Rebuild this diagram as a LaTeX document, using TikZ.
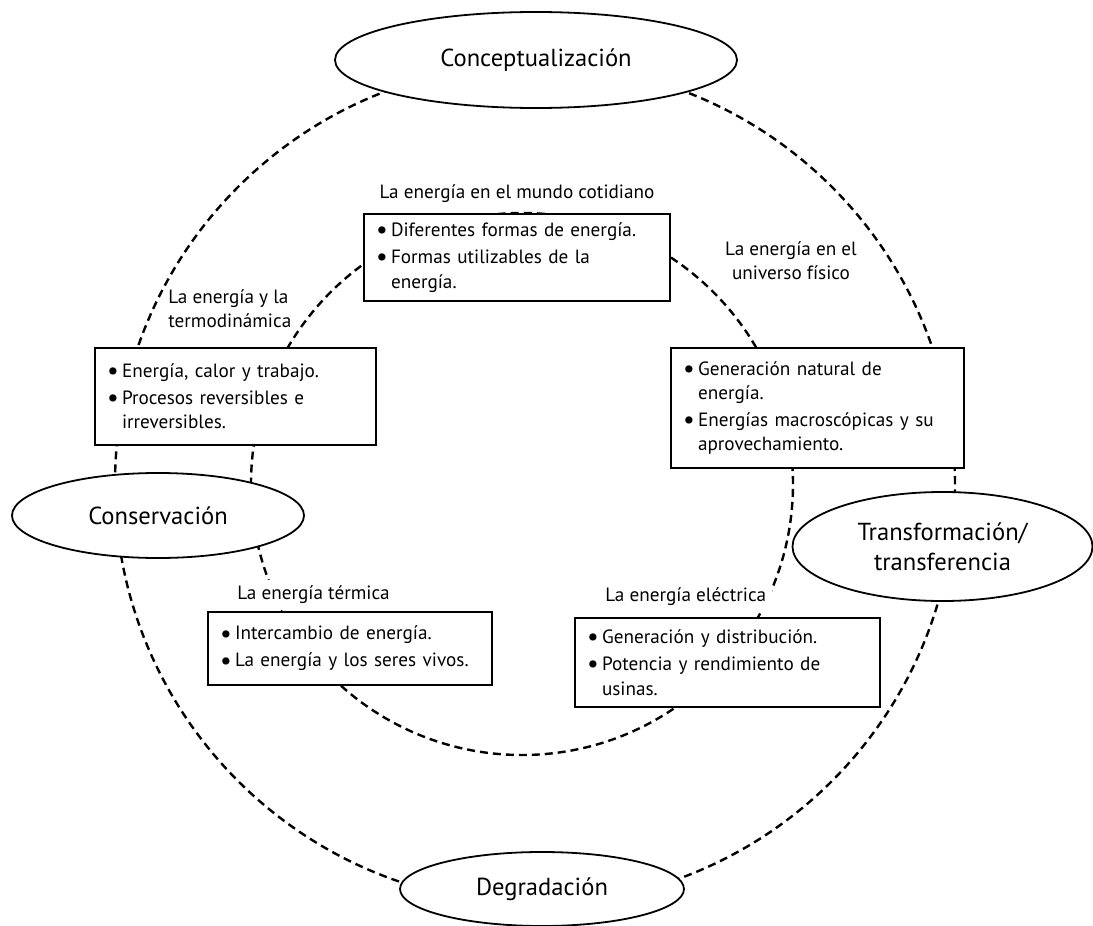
\documentclass[tikz,border=0pt]{standalone}
\usepackage{fontspec}
\setmainfont{PT Sans}
\usetikzlibrary{shapes.geometric, positioning}

\newcommand{\punto}{\makebox[7.5pt][l]{\raisebox{-1.1pt}{\scalebox{1.35}{\textbullet}}}}
\newcommand{\sangria}{\hspace*{7.5pt}}

\tikzset{
  ring/.style={dashed, line width=1.2pt, dash pattern=on 4pt off 2.5pt},
  eje/.style={ellipse, draw, line width=0.9pt, fill=white, inner sep=0pt,
    align=center, font=\fontsize{12.3}{14.8}\selectfont},
  tema/.style={rectangle, draw, line width=1pt, fill=white, inner xsep=6pt,
    inner ysep=0pt, align=left, font=\fontsize{9.6}{12.25}\selectfont},
  rotulo/.style={inner sep=1pt, font=\fontsize{9.6}{12.25}\selectfont},
  tapa/.style={rotulo, fill=white, inner ysep=3pt}
}

\begin{document}
\begin{tikzpicture}[x=0.5pt, y=-0.5pt]
\useasboundingbox (0,0) rectangle (1093,926);

\draw[ring] (535,484) circle [radius=210pt];
\draw[ring] (522,484) circle [radius=135.5pt];

\node[eje, minimum width=201pt, minimum height=48pt] (conc) at (536,60) {Conceptualización};
\node[eje, minimum width=146pt, minimum height=42.5pt] (cons) at (158,515.5) {Conservación};
\node[eje, minimum width=150pt, minimum height=54.5pt] (trans) at (942.5,546.5) {Transformación/\\transferencia};
\node[eje, minimum width=142pt, minimum height=37pt] (degr) at (542,889) {Degradación};

\node[tema, text width=141pt, minimum height=43.5pt] (cotid) at (517,257.5)
  {\punto Diferentes formas de energía.\\[1.2pt] \punto Formas utilizables de la\\ \sangria energía.};
\node[tema, text width=128.5pt, minimum height=48.5pt] (termo) at (235.5,396.5)
  {\punto Energía, calor y trabajo.\\[1.2pt] \punto Procesos reversibles e\\ \sangria irreversibles.};
\node[tema, text width=134.5pt, minimum height=60pt] (univ) at (817.5,408)
  {\punto Generación natural de\\ \sangria energía.\\[1.2pt] \punto Energías macroscópicas y su\\ \sangria aprovechamiento.};
\node[tema, text width=130pt, minimum height=36.5pt] (term) at (350,648.5)
  {\punto Intercambio de energía.\\[1.2pt] \punto La energía y los seres vivos.};
\node[tema, text width=140.5pt, minimum height=44.5pt] (elec) at (727.5,662.5)
  {\punto Generación y distribución.\\[1.2pt] \punto Potencia y rendimiento de\\ \sangria usinas.};

\node[rotulo] (l-cotid) [above=4pt of cotid] {La energía en el mundo cotidiano};
\node[rotulo, anchor=west, align=left] (l-termo) at (166,308.5) {La energía y la\\termodinámica};
\node[rotulo, align=center] (l-univ) at (791,260.5) {La energía en el\\universo físico};
\node[tapa, anchor=west] (l-term) at (235,595) {La energía térmica};
\node[tapa, anchor=west, inner xsep=3pt] (l-elec) at (599,597) {La energía eléctrica};
\end{tikzpicture}
\end{document}
